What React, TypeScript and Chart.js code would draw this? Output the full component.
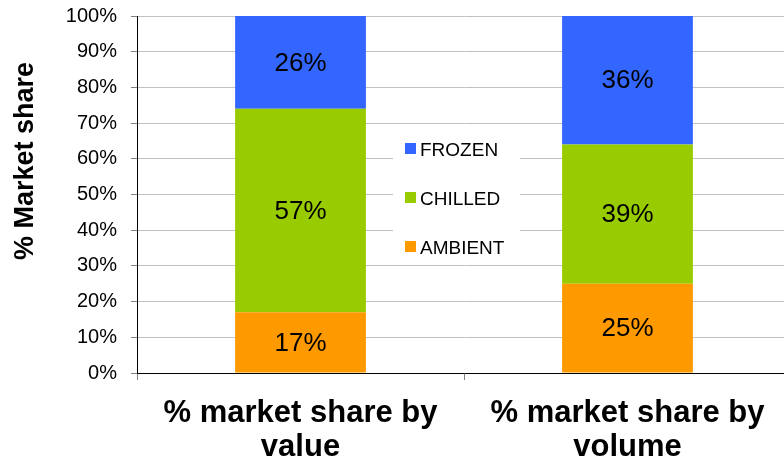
import { useEffect, useRef } from "react";
import { Chart, registerables } from "chart.js";

Chart.register(...registerables);

const categories = [["% market share by", "value"], ["% market share by", "volume"]];
const seriesNames = ["AMBIENT", "CHILLED", "FROZEN"];
const ambientValues = [17, 25];
const chilledValues = [57, 39];
const frozenValues = [26, 36];
const seriesColors = ["#FF9900", "#99CC00", "#3366FF"];
const yTitle = "% Market share";

const FONT = "'Liberation Sans', Arial, Helvetica, sans-serif";

const dataLabelPlugin = {
  id: "dataLabels",
  afterDatasetsDraw(chart: any) {
    const ctx = chart.ctx;
    ctx.save();
    ctx.font = `26px ${FONT}`;
    ctx.fillStyle = "#000";
    ctx.textAlign = "center";
    ctx.textBaseline = "middle";
    chart.data.datasets.forEach((ds: any, i: number) => {
      const meta = chart.getDatasetMeta(i);
      meta.data.forEach((el: any, j: number) => {
        const p = el.getProps(["x", "y", "base"], true);
        ctx.fillText(`${ds.data[j]}%`, p.x, (p.y + p.base) / 2 + 1);
      });
    });
    ctx.restore();
  },
};

const legendPlugin = {
  id: "innerLegend",
  afterDraw(chart: any) {
    const ctx = chart.ctx;
    ctx.save();
    ctx.fillStyle = "#fff";
    ctx.fillRect(393, 132, 127, 130);
    ctx.font = `19px ${FONT}`;
    ctx.textAlign = "left";
    ctx.textBaseline = "alphabetic";
    const ds = chart.data.datasets.slice().reverse();
    ds.forEach((d: any, k: number) => {
      const base = 156 + k * 49;
      ctx.fillStyle = d.backgroundColor;
      ctx.fillRect(405, base - 13, 11, 11);
      ctx.fillStyle = "#000";
      ctx.fillText(d.label, 420, base);
    });
    ctx.restore();
  },
};

const yTitlePlugin = {
  id: "yTitle",
  afterDraw(chart: any) {
    const ctx = chart.ctx;
    ctx.save();
    ctx.font = `bold 27px ${FONT}`;
    ctx.fillStyle = "#000";
    ctx.translate(33, 161);
    ctx.rotate(-Math.PI / 2);
    ctx.textAlign = "center";
    ctx.textBaseline = "alphabetic";
    ctx.fillText(yTitle, 0, 0);
    ctx.restore();
  },
};

export default function App() {
  const ref = useRef<HTMLCanvasElement>(null);
  useEffect(() => {
    if (!ref.current) return;
    const chart = new Chart(ref.current, {
      type: "bar",
      data: {
        labels: categories,
        datasets: [
          { label: seriesNames[0], data: ambientValues, backgroundColor: seriesColors[0] },
          { label: seriesNames[1], data: chilledValues, backgroundColor: seriesColors[1] },
          { label: seriesNames[2], data: frozenValues, backgroundColor: seriesColors[2] },
        ],
      },
      options: {
        responsive: false,
        animation: false,
        layout: { padding: { top: 16, right: 9, left: 0, bottom: 0 } },
        datasets: { bar: { barPercentage: 0.4, categoryPercentage: 1 } },
        plugins: { legend: { display: false }, tooltip: { enabled: false } },
        scales: {
          x: {
            stacked: true,
            afterFit(scale: any) {
              scale.height = 92;
              scale.paddingLeft = 0;
              scale.paddingRight = 0;
            },
            grid: { drawOnChartArea: false, drawTicks: true, tickLength: 7, color: "#808080" },
            border: { color: "#000", width: 1 },
            ticks: {
              color: "#000",
              padding: 16,
              maxRotation: 0,
              font: { family: FONT, size: 31, weight: "bold", lineHeight: 1.1 },
            },
          },
          y: {
            stacked: true,
            min: 0,
            max: 100,
            afterFit(scale: any) {
              scale.width = 137;
              scale.paddingTop = 0;
              scale.paddingBottom = 0;
            },
            grid: { color: "#C0C0C0", tickColor: "#808080", tickLength: 6 },
            border: { color: "#000", width: 1 },
            ticks: {
              stepSize: 10,
              color: "#000",
              padding: 14,
              font: { family: FONT, size: 20 },
              callback: (v: any) => `${v}%`,
            },
          },
        },
      },
      plugins: [dataLabelPlugin, legendPlugin, yTitlePlugin],
    } as any);
    return () => chart.destroy();
  }, []);
  return (
    <div style={{ position: "fixed", left: 0, top: 0, width: 784, height: 465, overflow: "hidden", background: "#fff" }}>
      <canvas ref={ref} width={800} height={465} style={{ display: "block" }} />
    </div>
  );
}
